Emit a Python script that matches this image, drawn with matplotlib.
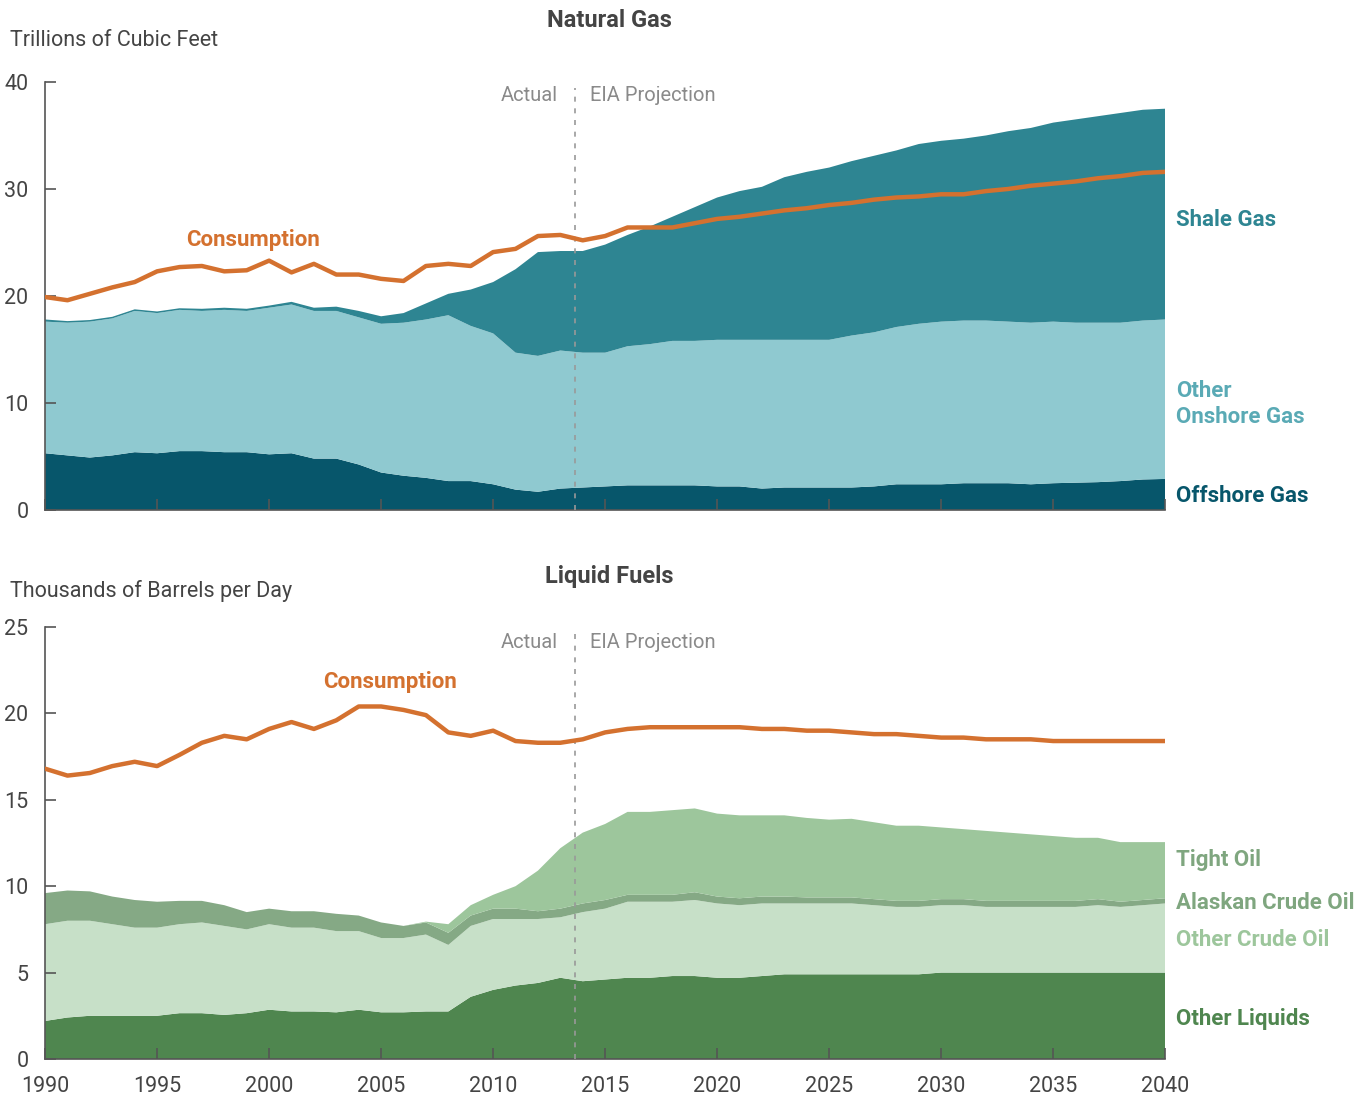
import numpy as np
import matplotlib
matplotlib.use("Agg")
from matplotlib import pyplot as plt

years = list(range(1990, 2041))
split_year = 2013.66

# natural gas, trillions of cubic feet (stacked layers)
gas_offshore = [5.3, 5.1, 4.9, 5.1, 5.4, 5.3, 5.5, 5.5, 5.4, 5.4, 5.2, 5.3, 4.8, 4.8, 4.25,
                3.5, 3.2, 3.0, 2.7, 2.7, 2.4, 1.9, 1.7, 2.0, 2.1,
                2.2, 2.3, 2.3, 2.3, 2.3, 2.2, 2.2, 2.0, 2.1, 2.1, 2.1, 2.1, 2.2, 2.4, 2.4,
                2.4, 2.5, 2.5, 2.5, 2.4, 2.5, 2.55, 2.6, 2.7, 2.85, 2.9]
gas_onshore = [12.3, 12.4, 12.7, 12.8, 13.2, 13.1, 13.2, 13.1, 13.3, 13.2, 13.7, 13.9, 13.8, 13.8, 13.75,
               13.9, 14.3, 14.8, 15.5, 14.5, 14.1, 12.8, 12.7, 12.9, 12.6,
               12.5, 13.0, 13.2, 13.5, 13.5, 13.7, 13.7, 13.9, 13.8, 13.8, 13.8, 14.2, 14.4, 14.7, 15.0,
               15.2, 15.2, 15.2, 15.1, 15.1, 15.1, 14.95, 14.9, 14.8, 14.85, 14.9]
gas_shale = [0.2, 0.15, 0.15, 0.15, 0.15, 0.15, 0.15, 0.2, 0.2, 0.2, 0.2, 0.25, 0.3, 0.4, 0.6,
             0.7, 0.9, 1.5, 2.0, 3.4, 4.8, 7.8, 9.7, 9.3, 9.5,
             10.1, 10.4, 11.0, 11.6, 12.5, 13.3, 13.9, 14.3, 15.2, 15.7, 16.1, 16.3, 16.5, 16.5, 16.8,
             16.9, 17.0, 17.3, 17.8, 18.2, 18.6, 19.0, 19.3, 19.6, 19.7, 19.7]
gas_consumption = [19.9, 19.6, 20.2, 20.8, 21.3, 22.3, 22.7, 22.8, 22.3, 22.4, 23.3, 22.2, 23.0, 22.0, 22.0,
                   21.6, 21.4, 22.8, 23.0, 22.8, 24.1, 24.4, 25.6, 25.7, 25.2,
                   25.6, 26.4, 26.4, 26.4, 26.8, 27.2, 27.4, 27.7, 28.0, 28.2, 28.5, 28.7, 29.0, 29.2, 29.3,
                   29.5, 29.5, 29.8, 30.0, 30.3, 30.5, 30.7, 31.0, 31.2, 31.5, 31.6]

# liquid fuels, thousands of barrels per day (stacked layers)
liq_other_liquids = [2.2, 2.4, 2.5, 2.5, 2.5, 2.5, 2.65, 2.65, 2.55, 2.65, 2.85, 2.75, 2.75, 2.7, 2.85,
                     2.7, 2.7, 2.75, 2.75, 3.6, 4.0, 4.25, 4.4, 4.7, 4.5,
                     4.6, 4.7, 4.7, 4.8, 4.8, 4.7, 4.7, 4.8, 4.9, 4.9, 4.9, 4.9, 4.9, 4.9, 4.9,
                     5.0, 5.0, 5.0, 5.0, 5.0, 5.0, 5.0, 5.0, 5.0, 5.0, 5.0]
liq_other_crude = [5.6, 5.6, 5.5, 5.3, 5.1, 5.1, 5.15, 5.25, 5.15, 4.85, 4.95, 4.85, 4.85, 4.7, 4.55,
                   4.3, 4.3, 4.45, 3.85, 4.1, 4.1, 3.85, 3.7, 3.5, 4.0,
                   4.1, 4.4, 4.4, 4.3, 4.4, 4.3, 4.2, 4.2, 4.1, 4.1, 4.1, 4.1, 4.0, 3.9, 3.9,
                   3.9, 3.9, 3.8, 3.8, 3.8, 3.8, 3.8, 3.9, 3.8, 3.9, 4.0]
liq_alaskan = [1.8, 1.75, 1.7, 1.6, 1.6, 1.5, 1.35, 1.25, 1.2, 1.0, 0.9, 0.95, 0.95, 1.0, 0.9,
               0.9, 0.7, 0.7, 0.7, 0.6, 0.6, 0.6, 0.45, 0.5, 0.5,
               0.5, 0.4, 0.4, 0.4, 0.45, 0.4, 0.4, 0.4, 0.4, 0.35, 0.35, 0.35, 0.35, 0.35, 0.35,
               0.35, 0.35, 0.35, 0.35, 0.35, 0.35, 0.35, 0.35, 0.3, 0.3, 0.3]
liq_tight = [0, 0, 0, 0, 0, 0, 0, 0, 0, 0, 0, 0, 0, 0, 0,
             0, 0, 0.05, 0.5, 0.6, 0.8, 1.3, 2.35, 3.5, 4.1,
             4.4, 4.8, 4.8, 4.9, 4.85, 4.8, 4.8, 4.7, 4.7, 4.6, 4.5, 4.55, 4.45, 4.35, 4.35,
             4.15, 4.05, 4.05, 3.95, 3.85, 3.75, 3.65, 3.55, 3.45, 3.35, 3.25]
liq_consumption = [16.8, 16.4, 16.55, 16.95, 17.2, 16.95, 17.6, 18.3, 18.7, 18.5, 19.1, 19.5, 19.1, 19.6, 20.4,
                   20.4, 20.2, 19.9, 18.9, 18.7, 19.0, 18.4, 18.3, 18.3, 18.5,
                   18.9, 19.1, 19.2, 19.2, 19.2, 19.2, 19.2, 19.1, 19.1, 19.0, 19.0, 18.9, 18.8, 18.8, 18.7,
                   18.6, 18.6, 18.5, 18.5, 18.5, 18.4, 18.4, 18.4, 18.4, 18.4, 18.4]

plt.rcParams['font.family'] = ['Roboto', 'DejaVu Sans']

orange = '#D4712F'
axis_grey = '#555555'
text_grey = '#444444'
note_grey = '#8A8A8A'


def style_axes(ax, ymax, step):
    ax.set_xlim(1990, 2040)
    ax.set_ylim(0, ymax)
    ax.set_yticks(np.arange(0, ymax + 1, step))
    ax.set_xticks(range(1990, 2041, 5))
    for side in ['top', 'right']:
        ax.spines[side].set_visible(False)
    for side in ['left', 'bottom']:
        ax.spines[side].set_color(axis_grey)
        ax.spines[side].set_linewidth(1.2)
    ax.tick_params(direction='in', length=8, width=1.2, color=axis_grey,
                   labelsize=15.5, labelcolor=text_grey, pad=12)
    ax.tick_params(axis='y', pad=12)
    ax.margins(0)


def add_split(ax, ytext):
    ax.axvline(split_year, ymin=0, ymax=0.985, color='#999999', lw=1.2,
               linestyle=(0, (3, 4)), zorder=3)
    ax.text(split_year - 0.75, ytext, 'Actual', ha='right', va='center',
            fontsize=14.5, color=note_grey)
    ax.text(split_year + 0.65, ytext, 'EIA Projection', ha='left', va='center',
            fontsize=14.5, color=note_grey)


fig = plt.figure(figsize=(13.66, 11), dpi=100)
ax1 = fig.add_axes([0.033, 0.5364, 0.82, 0.3891])
ax2 = fig.add_axes([0.033, 0.0373, 0.82, 0.3927])

# natural gas
ax1.stackplot(years, gas_offshore, gas_onshore, gas_shale,
              colors=['#07566B', '#8FC9D0', '#2E8592'], linewidth=0)
ax1.plot(years, gas_consumption, color=orange, lw=3.2, solid_capstyle='round', zorder=4)
style_axes(ax1, 40, 10)
ax1.tick_params(axis='x', labelbottom=False)
add_split(ax1, 38.7)
ax1.text(1999.3, 25.2, 'Consumption', ha='center', va='center', fontsize=16,
         fontweight='bold', color=orange)
ax1.text(2040.5, 27.1, 'Shale Gas', ha='left', va='center', fontsize=16,
         fontweight='bold', color='#2E8592')
ax1.text(2040.5, 9.9, 'Other\nOnshore Gas', ha='left', va='center', fontsize=16,
         fontweight='bold', color='#5AAAB5', linespacing=1.25)
ax1.text(2040.5, 1.3, 'Offshore Gas', ha='left', va='center', fontsize=16,
         fontweight='bold', color='#07566B')
fig.text(0.4458, 0.9818, 'Natural Gas', ha='center', va='center', fontsize=17,
         fontweight='bold', color=text_grey)
fig.text(0.007, 0.9636, 'Trillions of Cubic Feet', ha='left', va='center',
         fontsize=15.5, color=text_grey)

# liquid fuels
ax2.stackplot(years, liq_other_liquids, liq_other_crude, liq_alaskan, liq_tight,
              colors=['#4F864F', '#C7E0C8', '#85A985', '#9DC69C'], linewidth=0)
ax2.plot(years, liq_consumption, color=orange, lw=3.2, solid_capstyle='round', zorder=4)
style_axes(ax2, 25, 5)
add_split(ax2, 24.1)
ax2.text(2005.4, 21.8, 'Consumption', ha='center', va='center', fontsize=16,
         fontweight='bold', color=orange)
ax2.text(2040.5, 11.5, 'Tight Oil', ha='left', va='center', fontsize=16,
         fontweight='bold', color='#7FA67F')
ax2.text(2040.5, 9.0, 'Alaskan Crude Oil', ha='left', va='center', fontsize=16,
         fontweight='bold', color='#7FA67F')
ax2.text(2040.5, 6.9, 'Other Crude Oil', ha='left', va='center', fontsize=16,
         fontweight='bold', color='#9DC69C')
ax2.text(2040.5, 2.3, 'Other Liquids', ha='left', va='center', fontsize=16,
         fontweight='bold', color='#4F864F')
fig.text(0.4458, 0.4755, 'Liquid Fuels', ha='center', va='center', fontsize=17,
         fontweight='bold', color=text_grey)
fig.text(0.007, 0.4627, 'Thousands of Barrels per Day', ha='left', va='center',
         fontsize=15.5, color=text_grey)

fig.savefig('out.png', dpi=100)
